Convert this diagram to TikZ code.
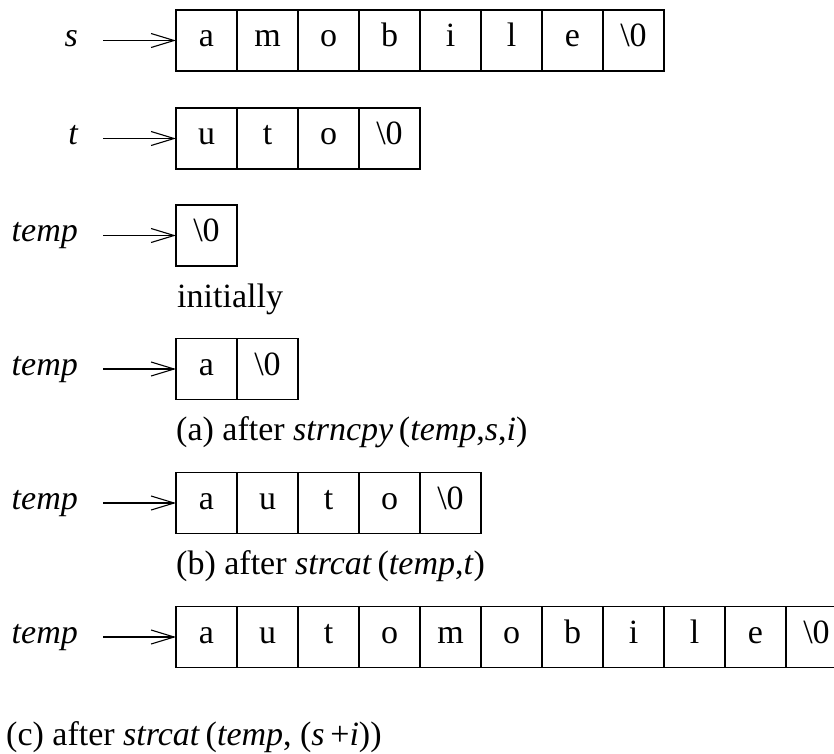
\documentclass[tikz,border=0pt]{standalone}
\usepackage{fontspec}
\setmainfont{Liberation Serif}
\usetikzlibrary{arrows.meta}

\tikzset{
  cell/.style={draw, line width=1.3pt, minimum width=61pt, minimum height=61pt,
    inner sep=0pt, outer sep=0pt, text height=16pt, text depth=4pt,
    font=\fontsize{34}{40}\selectfont},
  varname/.style={anchor=base east, inner sep=0pt,
    font=\fontsize{34}{40}\selectfont\itshape},
  caption/.style={anchor=base west, inner sep=0pt,
    font=\fontsize{34}{40}\selectfont},
  pointer/.style={line width=1.8pt,
    -{Straight Barb[length=23pt,width=14pt,line width=1.1pt]}},
}

% one row: name prefix, centre y, label text, list of cell contents
\newcommand{\strrow}[4]{%
  \node[varname] (#1lbl) at (78,#2+6) {#3};
  \coordinate (#1src) at (103,#2);
  \foreach \ch [count=\k] in {#4} {
    \node[cell] (#1c\k) at (176+61*\k-30.5,#2) {\ch};
  }
  \draw[pointer] (#1src) -- (#1c1.west);
}

\begin{document}
\begin{tikzpicture}[x=1pt,y=-1pt]
  \useasboundingbox (0,0) rectangle (834,753);
  \begin{scope}
    \clip (0,0) rectangle (834,753);

    \strrow{s}{40.5}{s}{a,m,o,b,i,l,e,\textbackslash 0}
    \strrow{t}{138.5}{t}{u,t,o,\textbackslash 0}
    \strrow{ini}{235.5}{temp}{\textbackslash 0}
    \node[caption] (capini) at (177,307) {initially};

    \strrow{ra}{369}{temp}{a,\textbackslash 0}
    \node[caption] (capa) at (176,440)
      {(a) after \textit{strncpy}\,(\textit{temp},\textit{s},\textit{i}\/)};

    \strrow{rb}{503}{temp}{a,u,t,o,\textbackslash 0}
    \node[caption] (capb) at (176,574)
      {(b) after \textit{strcat}\,(\textit{temp},\textit{t}\/)};

    \strrow{rc}{637}{temp}{a,u,t,o,m,o,b,i,l,e,\textbackslash 0}
    \node[caption] (capc) at (6,745)
      {(c) after \textit{strcat}\,(\textit{temp}, (\textit{s}\,+\textit{i}\/))};
  \end{scope}
\end{tikzpicture}
\end{document}
